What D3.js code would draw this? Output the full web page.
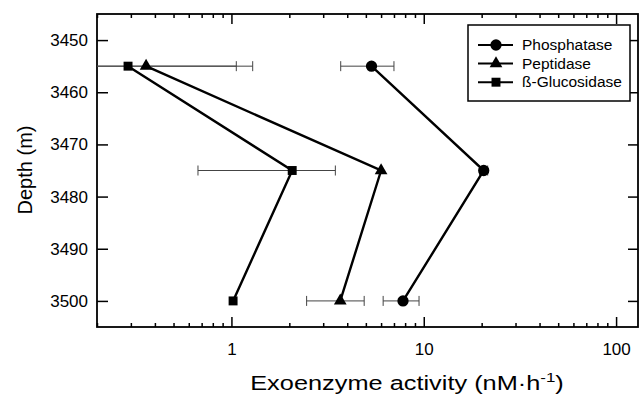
<!DOCTYPE html>
<html>
<head>
<meta charset="utf-8">
<script src="https://cdn.jsdelivr.net/npm/d3@7"></script>
<style>
  body { margin: 0; background: #fff; }
  text { font-family: "Liberation Sans", Arial, sans-serif; fill: #000; }
</style>
</head>
<body>
<svg id="chart" width="639" height="395"></svg>
<script>
// depths sampled (m)
const depths = [3455, 3475, 3500];

// activities (nM/h) with symmetric errors
const phosphatase = [5.35, 20.5, 7.8];
const phosphataseErr = [1.65, 1.0, 1.65];
const peptidase = [0.36, 6.0, 3.68];
const peptidaseErr = [0.93, 0, 1.22];
const glucosidase = [0.29, 2.07, 1.02];
const glucosidaseErr = [0.77, 1.4, 0];

const seriesNames = ["Phosphatase", "Peptidase", "\u00DF-Glucosidase"];
const seriesMarkers = ["circle", "triangle", "square"];

const xMajorTicks = [1, 10, 100];
const yTicks = [3450, 3460, 3470, 3480, 3490, 3500];

const svg = d3.select("#chart");
const mLeft = 97, mRight = 638, mTop = 14, mBottom = 327;

const x = d3.scaleLog().domain([0.2, 130]).range([mLeft, mRight]);
const y = d3.scaleLinear().domain([3445, 3505]).range([mTop, mBottom]);

const errs = [phosphataseErr, peptidaseErr, glucosidaseErr];
const series = [phosphatase, peptidase, glucosidase].map((vals, i) => ({
  name: seriesNames[i],
  marker: seriesMarkers[i],
  points: vals.map((v, j) => ({ v: v, d: depths[j], e: errs[i][j] }))
}));

const minorTicks = x.ticks().filter(t => xMajorTicks.indexOf(t) < 0);

// axes, ticks pointing inside the frame
function styleAxis(g) {
  g.select(".domain").remove();
  g.selectAll(".tick line").attr("stroke", "#000").attr("stroke-width", 1.5);
  g.selectAll(".tick text").style("font-size", "17px").attr("fill", "#000");
}

svg.append("g")
    .attr("transform", "translate(0," + mBottom + ")")
    .call(d3.axisBottom(x).tickValues(xMajorTicks).tickFormat(d3.format("d"))
      .tickSizeInner(-10).tickSizeOuter(0).tickPadding(16))
    .call(styleAxis);
svg.append("g")
    .attr("transform", "translate(0," + mBottom + ")")
    .call(d3.axisBottom(x).tickValues(minorTicks).tickFormat("")
      .tickSizeInner(-4).tickSizeOuter(0))
    .call(styleAxis);
svg.append("g")
    .attr("transform", "translate(0," + mTop + ")")
    .call(d3.axisTop(x).tickValues(xMajorTicks).tickFormat("")
      .tickSizeInner(-10).tickSizeOuter(0))
    .call(styleAxis);
svg.append("g")
    .attr("transform", "translate(0," + mTop + ")")
    .call(d3.axisTop(x).tickValues(minorTicks).tickFormat("")
      .tickSizeInner(-4).tickSizeOuter(0))
    .call(styleAxis);
svg.append("g")
    .attr("transform", "translate(" + mLeft + ",0)")
    .call(d3.axisLeft(y).tickValues(yTicks).tickFormat(d3.format("d"))
      .tickSizeInner(-11).tickSizeOuter(0).tickPadding(9))
    .call(styleAxis);
svg.append("g")
    .attr("transform", "translate(" + mRight + ",0)")
    .call(d3.axisRight(y).tickValues(yTicks).tickFormat("")
      .tickSizeInner(-10).tickSizeOuter(0))
    .call(styleAxis);

// frame
svg.append("rect")
    .attr("x", mLeft).attr("y", mTop)
    .attr("width", mRight - mLeft).attr("height", mBottom - mTop)
    .attr("fill", "none").attr("stroke", "#000").attr("stroke-width", 1.8);

// axis titles (the original lettering is wide, so stretch it)
svg.append("g")
    .attr("transform", "translate(407,390) scale(1.3,1)")
  .append("text")
    .attr("text-anchor", "middle")
    .style("font-size", "19.5px")
    .html('Exoenzyme activity (nM\u00B7h<tspan dy="-8" style="font-size:13px">-1</tspan><tspan dy="8">)</tspan>');

svg.append("text")
    .attr("transform", "translate(32,170) rotate(-90)")
    .attr("text-anchor", "middle")
    .style("font-size", "20px")
    .text("Depth (m)");

const plot = svg.append("g");

// error bars
series.forEach(s => {
  s.points.filter(p => p.e > 0).forEach(p => {
    const lo = p.v - p.e, hi = p.v + p.e;
    const x0 = lo > x.domain()[0] ? x(lo) : mLeft;
    const x1 = x(hi);
    const yy = y(p.d);
    plot.append("line").attr("x1", x0).attr("x2", x1).attr("y1", yy).attr("y2", yy)
        .attr("stroke", "#444").attr("stroke-width", 1);
    [lo, hi].forEach(v => {
      if (v > x.domain()[0]) {
        plot.append("line").attr("x1", x(v)).attr("x2", x(v))
            .attr("y1", yy - 5).attr("y2", yy + 5)
            .attr("stroke", "#444").attr("stroke-width", 1);
      }
    });
  });
});

// lines
const line = d3.line().x(p => x(p.v)).y(p => y(p.d));
plot.selectAll(".series")
    .data(series)
    .enter().append("path")
    .attr("d", s => line(s.points))
    .attr("fill", "none").attr("stroke", "#000").attr("stroke-width", 2.4);

// markers
const symbolFor = {
  circle: d3.symbol().type(d3.symbolCircle).size(100),
  triangle: d3.symbol().type(d3.symbolTriangle).size(70),
  square: d3.symbol().type(d3.symbolSquare).size(80)
};
series.forEach(s => {
  plot.selectAll(null)
      .data(s.points)
      .enter().append("path")
      .attr("d", symbolFor[s.marker]())
      .attr("transform", p => "translate(" + x(p.v) + "," + y(p.d) + ")")
      .attr("fill", "#000");
});

// legend
const legend = svg.append("g");
legend.append("rect")
    .attr("x", 468).attr("y", 25).attr("width", 162).attr("height", 76)
    .attr("fill", "#fff").attr("stroke", "#000").attr("stroke-width", 1.5);
const rows = legend.selectAll(".row")
    .data(series)
    .enter().append("g")
    .attr("transform", (s, i) => "translate(0," + (45 + i * 18.6) + ")");
rows.append("line")
    .attr("x1", 478).attr("x2", 513)
    .attr("stroke", "#000").attr("stroke-width", 2);
rows.append("path")
    .attr("d", s => symbolFor[s.marker]())
    .attr("transform", "translate(496,0)")
    .attr("fill", "#000");
rows.append("text")
    .attr("x", 522).attr("y", 5)
    .style("font-size", "15.5px")
    .text(s => s.name);
</script>
</body>
</html>
